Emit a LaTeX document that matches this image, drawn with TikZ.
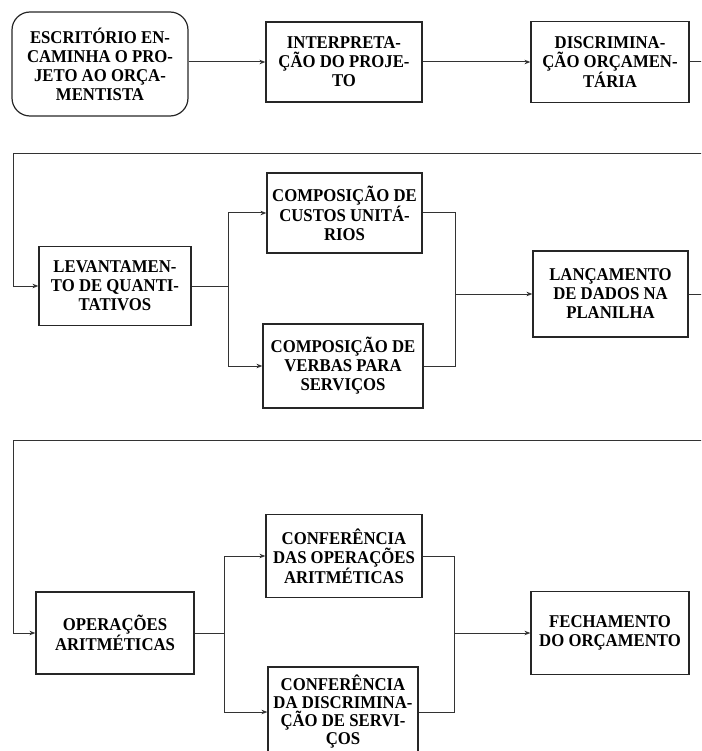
\documentclass[tikz,border=0pt]{standalone}
\usepackage{fontspec}
\setmainfont{Liberation Serif}[FakeStretch=0.93]
\usetikzlibrary{arrows.meta}
\begin{document}
\begin{tikzpicture}[x=1pt,y=-1pt,
  every node/.style={font=\fontsize{18}{19}\selectfont\bfseries},
  box/.style={draw=black!85,line width=1.2pt,align=center,inner sep=1pt},
  rbox/.style={box,rounded corners=18pt},
  link/.style={draw=black!80,line width=1pt},
  arr/.style={link,-{Stealth[length=6pt,width=4.5pt]}}]
\useasboundingbox (0,0) rectangle (701,751);
\clip (0,0) rectangle (701,751);

% first row
\node[rbox,minimum width=176pt,minimum height=104pt] (esc) at (100,64)
  {ESCRITÓRIO EN-\\CAMINHA O PRO-\\JETO AO ORÇA-\\MENTISTA};
\node[box,minimum width=156pt,minimum height=80pt] (interp) at (344,62)
  {INTERPRETA-\\ÇÃO DO PROJE-\\TO};
\node[box,minimum width=158pt,minimum height=81pt] (disc) at (610,62)
  {DISCRIMINA-\\ÇÃO ORÇAMEN-\\TÁRIA};

% second row
\node[box,minimum width=152pt,minimum height=79pt] (lev) at (115,286)
  {LEVANTAMEN-\\TO DE QUANTI-\\TATIVOS};
\node[box,minimum width=155pt,minimum height=80pt] (custos) at (344.5,213)
  {COMPOSIÇÃO DE\\CUSTOS UNITÁ-\\RIOS};
\node[box,minimum width=160pt,minimum height=84pt] (verbas) at (343,366)
  {COMPOSIÇÃO DE\\VERBAS PARA\\SERVIÇOS};
\node[box,minimum width=155pt,minimum height=86pt] (lanc) at (610.5,294)
  {LANÇAMENTO\\DE DADOS NA\\PLANILHA};

% third row
\node[box,minimum width=158pt,minimum height=82pt] (oper) at (115,633)
  {OPERAÇÕES\\ARITMÉTICAS};
\node[box,minimum width=156pt,minimum height=83pt] (confop) at (344,556)
  {CONFERÊNCIA\\DAS OPERAÇÕES\\ARITMÉTICAS};
\node[box,minimum width=150pt,minimum height=90pt,
      font=\fontsize{18}{18}\selectfont\bfseries] (confdis) at (343,712)
  {CONFERÊNCIA\\DA DISCRIMINA-\\ÇÃO DE SERVI-\\ÇOS};
\node[box,minimum width=158pt,minimum height=83pt] (fech) at (610,633)
  {FECHAMENTO\\DO ORÇAMENTO};

% junction and turning points
\coordinate (r1) at (712,154);
\coordinate (l1) at (13,154);
\coordinate (ja) at (228,286);
\coordinate (jb) at (455,294);
\coordinate (r2) at (712,440);
\coordinate (l2) at (13,440);
\coordinate (jc) at (224,633);
\coordinate (jd) at (454,633);

% row 1 flow
\draw[arr] (esc.east |- interp.west) -- (interp.west);
\draw[arr] (interp.east) -- (disc.west);
\draw[arr] (disc.east) -- (disc.east -| r1) -- (r1) -- (l1) |- (lev.west);

% row 2 flow
\draw[link] (lev.east) -- (ja);
\draw[arr] (ja) |- (custos.west);
\draw[arr] (ja) |- (verbas.west);
\draw[link] (custos.east) -| (jb);
\draw[link] (verbas.east) -| (jb);
\draw[arr] (jb) -- (lanc.west);
\draw[arr] (lanc.east) -- (lanc.east -| r2) -- (r2) -- (l2) |- (oper.west);

% row 3 flow
\draw[link] (oper.east) -- (jc);
\draw[arr] (jc) |- (confop.west);
\draw[arr] (jc) |- (confdis.west);
\draw[link] (confop.east) -| (jd);
\draw[link] (confdis.east) -| (jd);
\draw[arr] (jd) -- (fech.west);
\end{tikzpicture}
\end{document}
